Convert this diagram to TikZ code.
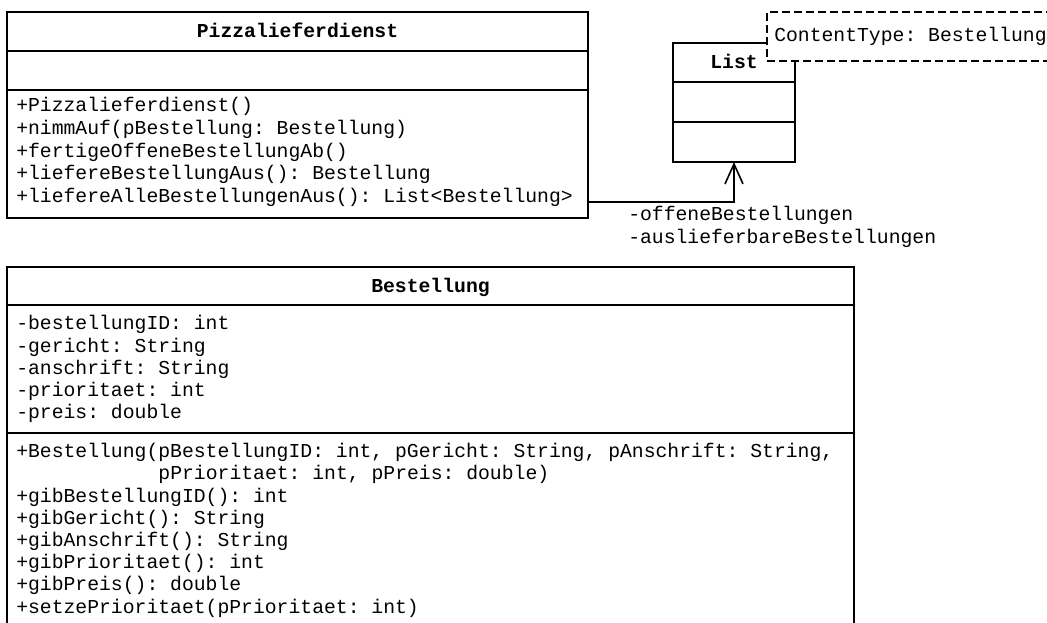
\documentclass[tikz,border=0pt]{standalone}
\usepackage{fontspec}
\setmonofont{Liberation Mono}
\usetikzlibrary{arrows.meta,fit}
\begin{document}
\begin{tikzpicture}[x=0.75pt,y=-0.75pt,
  box/.style={draw, line width=1.2pt, inner sep=0pt, outer sep=0pt, fill=white},
  sepline/.style={line width=1.2pt},
  txt/.style={anchor=base west, inner sep=0pt, font=\ttfamily\fontsize{14.8}{17}\selectfont},
  ttl/.style={anchor=base, inner sep=0pt, font=\ttfamily\bfseries\fontsize{14.8}{17}\selectfont},
  notebox/.style={draw, dash pattern=on 6pt off 3pt, line width=1.1pt, fill=white, inner sep=0pt, outer sep=0pt},
  assoc/.style={line width=1.2pt, -{Straight Barb[length=15pt,width=13.5pt,line width=1.2pt]}}]
\clip (0,0) rectangle (1047,622);
\fill[white] (0,0) rectangle (1047,622);

% Pizzalieferdienst
\node[box, fit={(7,12)(588,218)}] (pz) {};
\draw[sepline] (7,51) -- (588,51);
\draw[sepline] (7,90) -- (588,90);
\node[ttl] (pzt) at (297.5,37.5) {Pizzalieferdienst};
\node[txt] (pm1) at (16,111) {+Pizzalieferdienst()};
\node[txt] (pm2) at (16,134) {+nimmAuf(pBestellung: Bestellung)};
\node[txt] (pm3) at (16,157) {+fertigeOffeneBestellungAb()};
\node[txt] (pm4) at (16,179.5) {+liefereBestellungAus(): Bestellung};
\node[txt] (pm5) at (16,202) {+liefereAlleBestellungenAus(): List<Bestellung>};

% List
\node[box, fit={(673,43)(795,162)}] (list) {};
\draw[sepline] (673,82) -- (795,82);
\draw[sepline] (673,122) -- (795,122);
\node[ttl] (lt) at (734,68) {List};

% note
\node[notebox, fit={(767,12)(1120,61)}] (note) {};
\node[txt] (nt) at (774,41) {ContentType: Bestellung};

% association
\coordinate (cy) at (0,202);
\draw[assoc] (pz.east |- cy) -| (list.south);
\node[txt] (l1) at (628,220.5) {-offeneBestellungen};
\node[txt] (l2) at (628,243.5) {-auslieferbareBestellungen};

% Bestellung
\node[box, fit={(7,267)(854,720)}] (be) {};
\draw[sepline] (7,305) -- (854,305);
\draw[sepline] (7,433) -- (854,433);
\node[ttl] (bt) at (430.5,292) {Bestellung};
\node[txt] (ba1) at (16,329.5) {-bestellungID: int};
\node[txt] (ba2) at (16,352) {-gericht: String};
\node[txt] (ba3) at (16,374) {-anschrift: String};
\node[txt] (ba4) at (16,396) {-prioritaet: int};
\node[txt] (ba5) at (16,418.5) {-preis: double};
\node[txt] (bm1) at (16,457.5) {+Bestellung(pBestellungID: int, pGericht: String, pAnschrift: String,};
\node[txt] (bm1b) at (158.2,479.7) {pPrioritaet: int, pPreis: double)};
\node[txt] (bm2) at (16,502) {+gibBestellungID(): int};
\node[txt] (bm3) at (16,524) {+gibGericht(): String};
\node[txt] (bm4) at (16,546) {+gibAnschrift(): String};
\node[txt] (bm5) at (16,568.5) {+gibPrioritaet(): int};
\node[txt] (bm6) at (16,590.7) {+gibPreis(): double};
\node[txt] (bm7) at (16,613) {+setzePrioritaet(pPrioritaet: int)};
\end{tikzpicture}
\end{document}
